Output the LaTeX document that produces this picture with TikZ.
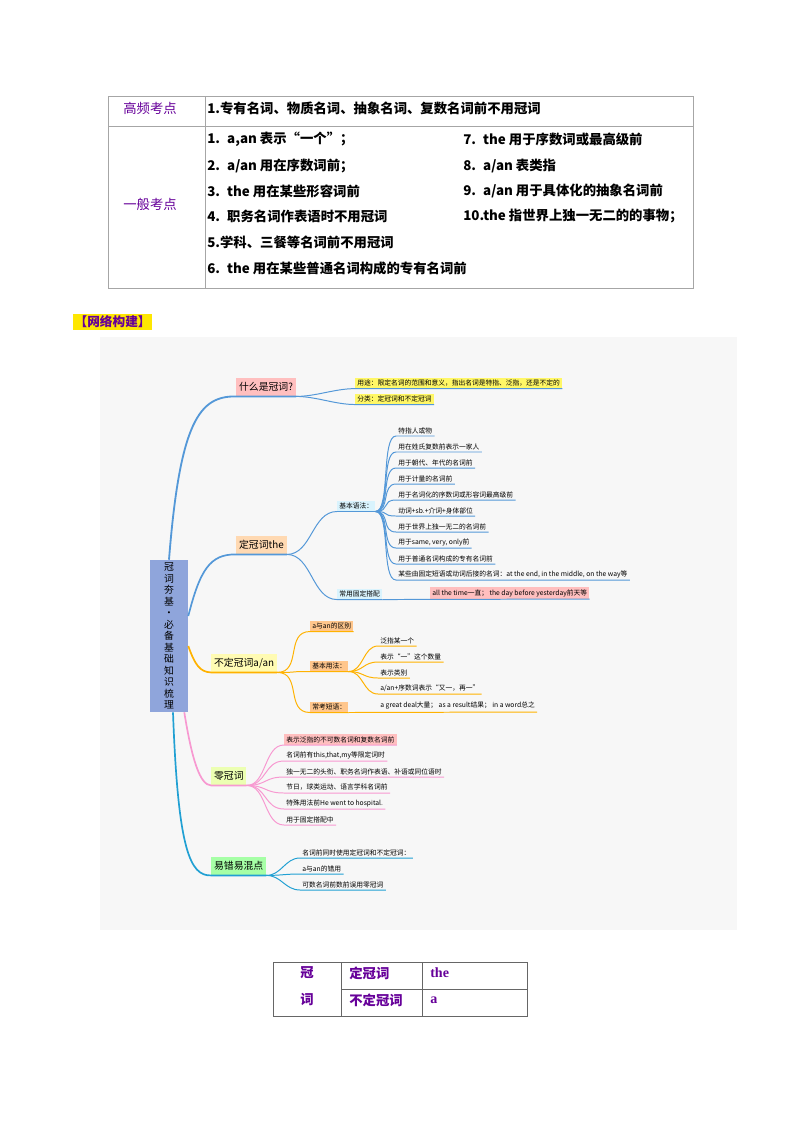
\documentclass[tikz,border=0pt]{standalone}
\usepackage{fontspec}
\setmainfont{Noto Sans CJK SC}
\newfontfamily\serifen{Liberation Serif}
\begin{document}
\begin{tikzpicture}[x=0.025cm,y=-0.025cm,
 tt/.style={font=\fontsize{9.5}{11}\selectfont\bfseries, anchor=west, inner sep=0pt},
 lab/.style={font=\fontsize{9.5}{11}\selectfont, text=violet!80!blue, inner sep=0pt},
 br/.style={font=\fontsize{7}{8}\selectfont, inner sep=2pt, minimum height=13pt, anchor=west},
 sub/.style={font=\fontsize{4.8}{5.5}\selectfont, inner sep=1.5pt, anchor=west},
 leaf/.style={font=\fontsize{4.8}{5.5}\selectfont, inner sep=1.5pt, anchor=south west},
 cb/.style={draw=cyan!60!blue!70, line width=0.7pt},
 co/.style={draw=orange!60!yellow, line width=0.7pt},
 cp/.style={draw=magenta!40, line width=0.7pt},
 ct/.style={draw=cyan!70!teal, line width=0.7pt}]
\useasboundingbox (0,0) rectangle (800,1132);
% top table
\draw[gray!70] (108,96) rectangle (693,288) (108,126) -- (693,126) (205,96) -- (205,288);
\node[lab] (h1) at (150,108) {高频考点};
\node[lab] (h2) at (150,204) {一般考点};
\node[tt] (r0) at (207,108) {1.专有名词、物质名词、抽象名词、复数名词前不用冠词};
\node[tt] (a1) at (207,139) {1. \ a,an 表示“一个”；};
\node[tt] (a2) at (207,166) {2. \ a/an 用在序数词前；};
\node[tt] (a3) at (207,191) {3. \ the 用在某些形容词前};
\node[tt] (a4) at (207,216) {4. \ 职务名词作表语时不用冠词};
\node[tt] (a5) at (207,242) {5.学科、三餐等名词前不用冠词};
\node[tt] (a6) at (207,268) {6. \ the 用在某些普通名词构成的专有名词前};
\node[tt] (b7) at (463,139) {7. \ the 用于序数词或最高级前};
\node[tt] (b8) at (463,166) {8. \ a/an 表类指};
\node[tt] (b9) at (463,191) {9. \ a/an 用于具体化的抽象名词前};
\node[tt] (b10) at (463,216) {10.the 指世界上独一无二的的事物；};
% header
\node[fill=yellow!90!orange, text=violet!80!blue, font=\fontsize{9}{10}\selectfont\bfseries, inner sep=1pt, anchor=west] (hdr) at (73,322) {【网络构建】};
% mind map background
\fill[gray!6] (100,337) rectangle (737,930);
\node[fill=cyan!40!blue!45, minimum width=38*0.025cm, minimum height=152*0.025cm, inner sep=0pt, align=center, font=\fontsize{7}{8.2}\selectfont] (root) at (169,636) {冠\\词\\夯\\基\\·\\必\\备\\基\\础\\知\\识\\梳\\理};
% branches
\node[br, fill=red!25] (b1) at (236,387) {什么是冠词?};
\node[br, fill=orange!30] (b2) at (236,545) {定冠词the};
\node[br, fill=yellow!30] (b3) at (211,663) {不定冠词a/an};
\node[br, fill=lime!30] (b4) at (211,776) {零冠词};
\node[br, fill=green!35] (b5) at (211,866) {易错易混点};
\draw[cb, line width=1.3pt] (root.north) .. controls (180,420) and (200,396) .. (b1.south west) -- (b1.south east);
\draw[cb, line width=1.2pt] (root.east) ++(0,-20) .. controls (200,570) and (210,554) .. (b2.south west) -- (b2.south east);
\draw[co, line width=1.2pt] (root.east) ++(0,10) .. controls (195,665) and (200,672) .. (b3.south west) -- (b3.south east);
\draw[cp, line width=1.2pt] (root.south east) ++(-4,0) .. controls (192,760) and (200,785) .. (b4.south west) -- (b4.south east);
\draw[ct, line width=1.2pt] (root.south) ++(4,0) .. controls (178,850) and (190,876) .. (b5.south west) -- (b5.south east);
% b1 children
\node[sub, fill=yellow!60] (c11) at (355,383) {用途：限定名词的范围和意义，指出名词是特指、泛指，还是不定的};
\node[sub, fill=yellow!60] (c12) at (355,399) {分类：定冠词和不定冠词};
\foreach \c in {c11,c12} \draw[cb] (b1.south east) .. controls +(20,0) and +(-20,0) .. (\c.south west) -- (\c.south east);
% b2 children
\node[sub, fill=cyan!15] (g1) at (337,506) {基本语法：};
\node[sub, fill=cyan!15] (g2) at (337,594) {常用固定搭配};
\foreach \c in {g1,g2} \draw[cb] (b2.south east) .. controls +(25,0) and +(-25,0) .. (\c.south west) -- (\c.south east);
\node[sub, fill=red!25] (g21) at (430,593) {all the time一直； the day before yesterday前天等};
\draw[cb] (g2.south east) -- (g21.south east);
\foreach \t [count=\i] in {特指人或物,用在姓氏复数前表示一家人,用于朝代、年代的名词前,用于计量的名词前,用于名词化的序数词或形容词最高级前,动词+sb.+介词+身体部位,用于世界上独一无二的名词前,{用于same, very, only前},用于普通名词构成的专有名词前,{某些由固定短语或动词后接的名词：at the end, in the middle, on the way等}}{
  \node[leaf] (g1\i) at (396,{420+16*\i}) {\t};
  \draw[cb] (g1.south east) .. controls +(15,0) and +(-15,0) .. (g1\i.south west) -- (g1\i.south east);
}
% b3 children
\node[sub, fill=orange!45] (d1) at (310,626) {a与an的区别};
\node[sub, fill=orange!45] (d2) at (310,666) {基本用法：};
\node[sub, fill=orange!45] (d3) at (310,707) {常考短语：};
\foreach \c in {d1,d2,d3} \draw[co] (b3.south east) .. controls +(25,0) and +(-25,0) .. (\c.south west) -- (\c.south east);
\foreach \t [count=\i] in {泛指某一个,表示“一”这个数量,表示类别,a/an+序数词表示“又一，再一”}{
  \node[leaf] (d2\i) at (378,{630+16*\i}) {\t};
  \draw[co] (d2.south east) .. controls +(15,0) and +(-15,0) .. (d2\i.south west) -- (d2\i.south east);
}
\node[leaf] (d31) at (378,712) {a great deal大量； as a result结果； in a word总之};
\draw[co] (d3.south east) -- (d31.south east);
% b4 children
\node[leaf, fill=red!25] (z1) at (284,745) {表示泛指的不可数名词和复数名词前};
\foreach \t [count=\i] in {{名词前有this,that,my等限定词时},独一无二的头衔、职务名词作表语、补语或同位语时,节日，球类运动、语言学科名词前,特殊用法前He went to hospital.,用于固定搭配中}{
  \node[leaf] (z\i x) at (284,{745+16*\i}) {\t};
  \draw[cp] (b4.south east) .. controls +(20,0) and +(-20,0) .. (z\i x.south west) -- (z\i x.south east);
}
\draw[cp] (b4.south east) .. controls +(20,0) and +(-20,0) .. (z1.south west) -- (z1.south east);
% b5 children
\foreach \t [count=\i] in {名词前同时使用定冠词和不定冠词：,a与an的错用,可数名词前数前误用零冠词}{
  \node[leaf] (e\i) at (300,{842+16*\i}) {\t};
  \draw[ct] (b5.south east) .. controls +(15,0) and +(-15,0) .. (e\i.south west) -- (e\i.south east);
}
% bottom table
\draw[gray!80!black] (273,962) rectangle (527,1016) (341,989) -- (527,989) (341,962) -- (341,1016) (422,962) -- (422,1016);
\node[lab, font=\fontsize{9.5}{11}\selectfont\bfseries] (w1) at (307,973) {冠};
\node[lab, font=\fontsize{9.5}{11}\selectfont\bfseries] (w2) at (307,1000) {词};
\node[lab, anchor=west, font=\fontsize{9.5}{11}\selectfont\bfseries] (x1) at (349,973) {定冠词};
\node[lab, anchor=west, font=\fontsize{9.5}{11}\selectfont\bfseries] (x2) at (349,1000) {不定冠词};
\node[lab, anchor=west, font=\serifen\fontsize{10}{11}\selectfont\bfseries] (y1) at (430,973) {the};
\node[lab, anchor=west, font=\serifen\fontsize{10}{11}\selectfont\bfseries] (y2) at (430,1000) {a};
\end{tikzpicture}
\end{document}
